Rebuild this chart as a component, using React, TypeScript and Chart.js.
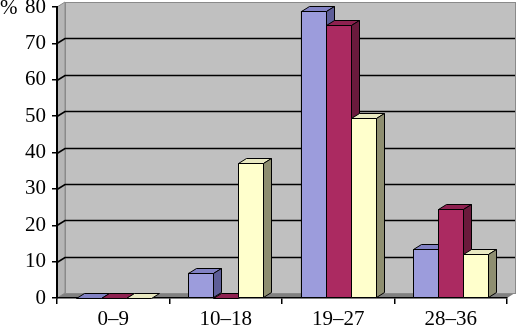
import React, { useEffect, useRef } from "react";
import { Chart, registerables } from "chart.js";

Chart.register(...registerables);

const categories = ["0–9", "10–18", "19–27", "28–36"];
const seriesBlue = [0, 7, 79, 13.5];
const seriesMaroon = [0, 0, 75, 24.5];
const seriesYellow = [0, 37, 49.5, 12];
const yTickValues = [0, 10, 20, 30, 40, 50, 60, 70, 80];

const frontColors = ["#9c9cdc", "#ab2a61", "#ffffcc"];
const topColors = ["#8282c4", "#8e2150", "#e9e9c2"];
const sideColors = ["#5e5e98", "#6a1a3c", "#8e8e70"];

const DX = 8;
const DY = -5;
const FONT = "Liberation Serif";
const FONT_SIZE = 21;

const threeD = {
  id: "threeD",
  beforeDraw(chart: any) {
    const { ctx, chartArea } = chart;
    const { left, right, top, bottom } = chartArea;
    const ys = chart.scales.y;
    ctx.save();
    ctx.fillStyle = "#c0c0c0";
    ctx.fillRect(left + DX, top + DY, right - left, bottom - top);
    ctx.fillStyle = "#b6b6b6";
    ctx.beginPath();
    ctx.moveTo(left, top);
    ctx.lineTo(left + DX, top + DY);
    ctx.lineTo(left + DX, bottom + DY);
    ctx.lineTo(left, bottom);
    ctx.closePath();
    ctx.fill();
    ctx.strokeStyle = "#8a8a8a";
    ctx.lineWidth = 1;
    ctx.stroke();
    ctx.fillStyle = "#808080";
    ctx.beginPath();
    ctx.moveTo(left, bottom);
    ctx.lineTo(right, bottom);
    ctx.lineTo(right + DX, bottom + DY);
    ctx.lineTo(left + DX, bottom + DY);
    ctx.closePath();
    ctx.fill();
    ctx.strokeStyle = "#8a8a8a";
    ctx.strokeRect(left + DX + 0.5, top + DY + 0.5, right - left, bottom - top);
    ctx.strokeStyle = "#000";
    ctx.lineWidth = 1.6;
    yTickValues.forEach((v) => {
      if (v === 0 || v === 80) return;
      const y = Math.round(ys.getPixelForValue(v)) + 0.5;
      ctx.beginPath();
      ctx.moveTo(left, y);
      ctx.lineTo(left + DX, y + DY);
      ctx.lineTo(right + DX, y + DY);
      ctx.stroke();
    });
    ctx.restore();
  },
  afterDatasetsDraw(chart: any) {
    const { ctx } = chart;
    const n = chart.data.labels.length;
    ctx.save();
    ctx.strokeStyle = "#000";
    ctx.lineWidth = 1;
    ctx.lineJoin = "round";
    for (let j = 0; j < n; j++) {
      chart.data.datasets.forEach((ds: any, i: number) => {
        const el = chart.getDatasetMeta(i).data[j];
        const { x, y, base, width } = el.getProps(["x", "y", "base", "width"], true);
        const l = Math.round(x - width / 2) + 0.5;
        const r = Math.round(x + width / 2) + 0.5;
        const t = Math.round(y) + 0.5;
        const b = Math.round(base) + 0.5;
        if (b - t > 0.1) {
          ctx.fillStyle = frontColors[i];
          ctx.fillRect(l, t, r - l, b - t);
          ctx.strokeRect(l, t, r - l, b - t);
        }
        ctx.fillStyle = topColors[i];
        ctx.beginPath();
        ctx.moveTo(l, t);
        ctx.lineTo(r, t);
        ctx.lineTo(r + DX, t + DY);
        ctx.lineTo(l + DX, t + DY);
        ctx.closePath();
        ctx.fill();
        ctx.stroke();
        if (b - t > 0.1) {
          ctx.fillStyle = sideColors[i];
          ctx.beginPath();
          ctx.moveTo(r, t);
          ctx.lineTo(r + DX, t + DY);
          ctx.lineTo(r + DX, b + DY);
          ctx.lineTo(r, b);
          ctx.closePath();
          ctx.fill();
          ctx.stroke();
        }
      });
    }
    ctx.restore();
  },
  afterDraw(chart: any) {
    const { ctx, chartArea } = chart;
    ctx.save();
    ctx.fillStyle = "#000";
    ctx.font = `${FONT_SIZE}px "${FONT}"`;
    ctx.textAlign = "left";
    ctx.textBaseline = "middle";
    ctx.fillText("%", 0, chartArea.top + 1);
    ctx.restore();
  },
};

export default function App() {
  const ref = useRef<HTMLCanvasElement | null>(null);
  useEffect(() => {
    if (!ref.current) return;
    const chart = new Chart(ref.current, {
      type: "bar",
      data: {
        labels: categories,
        datasets: [
          { label: "A", data: seriesBlue, backgroundColor: frontColors[0], borderColor: "#000", borderWidth: 1 },
          { label: "B", data: seriesMaroon, backgroundColor: frontColors[1], borderColor: "#000", borderWidth: 1 },
          { label: "C", data: seriesYellow, backgroundColor: frontColors[2], borderColor: "#000", borderWidth: 1 },
        ],
      },
      options: {
        responsive: false,
        animation: false,
        devicePixelRatio: 1,
        layout: { padding: { top: 7, right: 11, left: 0, bottom: 0 } },
        datasets: { bar: { categoryPercentage: 0.667, barPercentage: 1 } },
        plugins: { legend: { display: false }, tooltip: { enabled: false } },
        scales: {
          x: {
            offset: true,
            grid: { drawOnChartArea: false, drawTicks: true, tickLength: 6, color: "#000", lineWidth: 1.5, offset: true },
            border: { display: true, color: "#000", width: 1.5 },
            ticks: { color: "#000", font: { family: FONT, size: FONT_SIZE }, padding: 3, maxRotation: 0 },
            afterFit: (s: any) => {
              s.height = 31;
              s.paddingLeft = 0;
              s.paddingRight = 0;
            },
          },
          y: {
            min: 0,
            max: 80,
            ticks: { stepSize: 10, color: "#000", font: { family: FONT, size: FONT_SIZE }, padding: 6 },
            grid: { drawOnChartArea: false, drawTicks: true, tickLength: 5, color: "#000", lineWidth: 1.5 },
            border: { display: true, color: "#000", width: 2 },
            afterFit: (s: any) => {
              s.width = 57;
              s.paddingTop = 0;
              s.paddingBottom = 0;
            },
          },
        },
      },
      plugins: [threeD],
    });
    return () => chart.destroy();
  }, []);
  return (
    <div style={{ position: "fixed", left: 0, top: 0, width: 518, height: 329, background: "#fff" }}>
      <canvas ref={ref} width={518} height={329} />
    </div>
  );
}
